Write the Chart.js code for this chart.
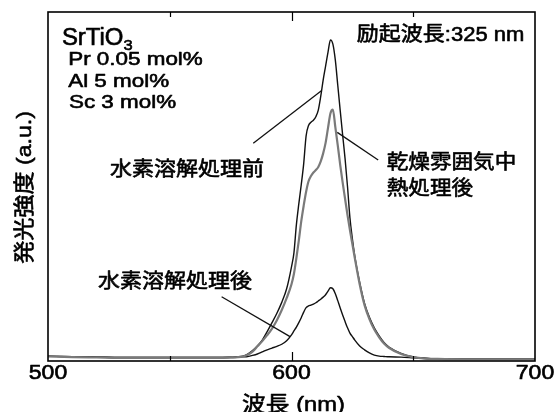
<!DOCTYPE html>
<html>
<head>
<meta charset="utf-8">
<script src="https://cdn.jsdelivr.net/npm/chart.js@4.4.1/dist/chart.umd.min.js"></script>
<style>
  html, body { margin: 0; padding: 0; background: #fff; }
  #wrap { width: 555px; height: 412px; }
</style>
</head>
<body>
<div id="wrap"><canvas id="myChart" width="555" height="412"></canvas></div>
<script>
// wavelength grid (nm)
const wavelengths = [500, 510, 520, 530, 540, 550, 560, 570, 575, 578, 580, 582, 584, 586, 588, 590,
  592, 594, 596, 598, 600, 601, 602, 603, 604, 605, 606, 607, 608, 609, 610, 611, 612, 613, 614,
  615, 616, 617, 618, 619, 620, 621, 622, 623, 624, 625, 626, 628, 630, 632, 634, 636, 638, 640,
  645, 650, 655, 660, 670, 680, 690, 700];

// 水素溶解処理前
const beforeH2 = [0.014, 0.012, 0.011, 0.010, 0.010, 0.010, 0.010, 0.010, 0.011, 0.012, 0.014, 0.020,
  0.030, 0.043, 0.060, 0.084, 0.110, 0.137, 0.168, 0.207, 0.270, 0.310, 0.390, 0.450, 0.505, 0.565,
  0.645, 0.675, 0.684, 0.690, 0.700, 0.719, 0.758, 0.805, 0.845, 0.885, 0.920, 0.908, 0.862, 0.790,
  0.718, 0.648, 0.580, 0.500, 0.410, 0.350, 0.300, 0.225, 0.165, 0.125, 0.095, 0.072, 0.053, 0.040,
  0.022, 0.012, 0.008, 0.006, 0.005, 0.005, 0.005, 0.005];

// 乾燥雰囲気中熱処理後
const dryAnneal = [0.013, 0.011, 0.010, 0.009, 0.009, 0.009, 0.009, 0.009, 0.010, 0.011, 0.013, 0.018,
  0.027, 0.042, 0.057, 0.074, 0.093, 0.117, 0.146, 0.180, 0.220, 0.250, 0.295, 0.345, 0.400, 0.445,
  0.485, 0.515, 0.530, 0.540, 0.547, 0.556, 0.572, 0.595, 0.625, 0.668, 0.710, 0.720, 0.670, 0.618,
  0.562, 0.512, 0.465, 0.418, 0.375, 0.335, 0.295, 0.220, 0.160, 0.120, 0.090, 0.068, 0.050, 0.038,
  0.020, 0.011, 0.007, 0.006, 0.005, 0.005, 0.005, 0.005];

// 水素溶解処理後
const afterH2 = [0.014, 0.012, 0.011, 0.010, 0.010, 0.010, 0.010, 0.010, 0.010, 0.011, 0.012, 0.013,
  0.016, 0.020, 0.026, 0.032, 0.037, 0.042, 0.048, 0.058, 0.075, 0.086, 0.097, 0.110, 0.124, 0.140,
  0.153, 0.158, 0.160, 0.163, 0.167, 0.172, 0.177, 0.183, 0.190, 0.200, 0.210, 0.207, 0.193, 0.173,
  0.152, 0.132, 0.113, 0.095, 0.080, 0.070, 0.060, 0.043, 0.032, 0.023, 0.017, 0.014, 0.013, 0.012,
  0.011, 0.009, 0.007, 0.006, 0.005, 0.005, 0.005, 0.005];

const xTickLabels = [500, 600, 700];
const xMinorTicks = [550, 650];

// text notes placed in data units [wavelength, intensity]
const notes = [
  { text: 'SrTiO', at: [505.7, 0.905], size: 23, sx: 1.04, sub: '3' },
  { text: 'Pr 0.05 mol%', at: [508.3, 0.848], size: 19, sx: 1.18 },
  { text: 'Al 5 mol%', at: [508.3, 0.786], size: 19, sx: 1.18 },
  { text: 'Sc 3 mol%', at: [508.6, 0.724], size: 19, sx: 1.18 },
  { text: '励起波長:325 nm', at: [695.6, 0.918], size: 20, sx: 1.1, align: 'right' },
  { text: '水素溶解処理前', at: [525.5, 0.545], size: 20, sx: 1.1, mid: true },
  { text: '乾燥雰囲気中', at: [639.1, 0.567], size: 20, sx: 1.08, mid: true },
  { text: '熱処理後', at: [639.1, 0.492], size: 20, sx: 1.08, mid: true },
  { text: '水素溶解処理後', at: [520.5, 0.226], size: 20, sx: 1.1, mid: true }
];

const leaders = [
  [[584.3, 0.624], [612.4, 0.775]],
  [[618.8, 0.655], [635.6, 0.576]],
  [[571.3, 0.184], [599.4, 0.070]]
];

const FONT = '"Liberation Sans", "Noto Sans CJK JP", sans-serif';

function toPts(ys) {
  return wavelengths.map((w, i) => ({ x: w, y: ys[i] }));
}

// text with a slight horizontal stretch and a thin outline to match the heavier print
function drawText(ctx, text, x, y, size, sx, align, rot) {
  ctx.save();
  ctx.translate(x, y);
  if (rot) ctx.rotate(rot);
  ctx.scale(sx, 1);
  ctx.font = size + 'px ' + FONT;
  ctx.textAlign = align || 'left';
  ctx.lineWidth = 0.6;
  ctx.lineJoin = 'round';
  ctx.fillText(text, 0, 0);
  ctx.strokeText(text, 0, 0);
  ctx.restore();
}

const decor = {
  id: 'decor',
  afterDraw(chart) {
    const ctx = chart.ctx;
    const xs = chart.scales.x, ys = chart.scales.y;
    const a = chart.chartArea;
    ctx.save();
    ctx.fillStyle = '#000';
    ctx.strokeStyle = '#000';

    // frame
    ctx.lineWidth = 1.6;
    ctx.strokeRect(a.left, a.top, a.right - a.left, a.bottom - a.top);

    // inward ticks, top and bottom
    ctx.lineWidth = 1.2;
    ctx.beginPath();
    xTickLabels.concat(xMinorTicks).forEach(v => {
      if (v === xs.min || v === xs.max) return;
      const len = xMinorTicks.includes(v) ? 5 : 9;
      const px = Math.round(xs.getPixelForValue(v)) + 0.5;
      ctx.moveTo(px, a.bottom); ctx.lineTo(px, a.bottom - len);
      ctx.moveTo(px, a.top); ctx.lineTo(px, a.top + len);
    });
    ctx.stroke();

    // tick labels
    ctx.textBaseline = 'alphabetic';
    xTickLabels.forEach(v => {
      drawText(ctx, String(v), xs.getPixelForValue(v), a.bottom + 18, 20, 1.15, 'center');
    });

    // axis titles
    drawText(ctx, '波長 (nm)', (a.left + a.right) / 2 + 2, 411, 21, 1.13, 'center');
    drawText(ctx, '発光強度 (a.u.)', 31, (a.top + a.bottom) / 2 + 1, 21, 1.1, 'center', -Math.PI / 2);

    // notes
    notes.forEach(n => {
      const x = xs.getPixelForValue(n.at[0]);
      const y = ys.getPixelForValue(n.at[1]);
      ctx.textBaseline = n.mid ? 'middle' : 'alphabetic';
      drawText(ctx, n.text, x, y, n.size, n.sx, n.align);
      if (n.sub) {
        ctx.font = n.size + 'px ' + FONT;
        const w = ctx.measureText(n.text).width * n.sx;
        ctx.textBaseline = 'alphabetic';
        drawText(ctx, n.sub, x + w, y + 5, 15, 1.1, 'left');
      }
    });

    // leader lines
    ctx.lineWidth = 1.3;
    ctx.strokeStyle = '#111';
    leaders.forEach(l => {
      ctx.beginPath();
      ctx.moveTo(xs.getPixelForValue(l[0][0]), ys.getPixelForValue(l[0][1]));
      ctx.lineTo(xs.getPixelForValue(l[1][0]), ys.getPixelForValue(l[1][1]));
      ctx.stroke();
    });
    ctx.restore();
  }
};

const ctx = document.getElementById('myChart').getContext('2d');
new Chart(ctx, {
  type: 'line',
  data: {
    datasets: [
      { label: '乾燥雰囲気中熱処理後', data: toPts(dryAnneal), borderColor: '#7a7a7a', borderWidth: 2.2 },
      { label: '水素溶解処理前', data: toPts(beforeH2), borderColor: '#111', borderWidth: 1.4 },
      { label: '水素溶解処理後', data: toPts(afterH2), borderColor: '#111', borderWidth: 1.4 }
    ]
  },
  options: {
    responsive: false,
    animation: false,
    layout: { padding: { left: 48, right: 20, top: 12, bottom: 51 } },
    elements: {
      point: { radius: 0 },
      line: { cubicInterpolationMode: 'monotone', fill: false }
    },
    scales: {
      x: { type: 'linear', min: 500, max: 700, display: false },
      y: { type: 'linear', min: 0, max: 1, display: false }
    },
    plugins: { legend: { display: false }, tooltip: { enabled: false } }
  },
  plugins: [decor]
});
</script>
</body>
</html>
